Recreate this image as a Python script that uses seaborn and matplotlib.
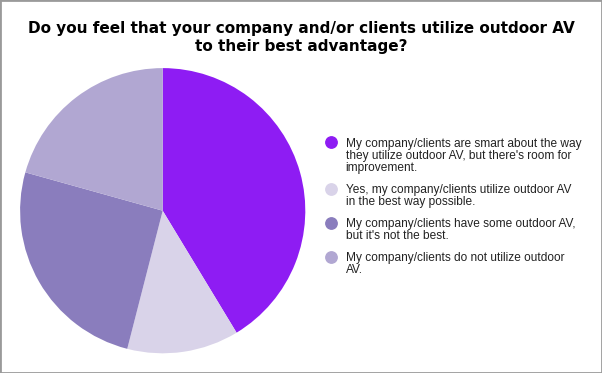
import matplotlib
matplotlib.use("Agg")
import matplotlib.pyplot as plt
import seaborn as sns
from matplotlib.lines import Line2D
from matplotlib.patches import Rectangle

# Dados da pesquisa
categorias = [
    ["My company/clients are smart about the way",
     "they utilize outdoor AV, but there's room for",
     "improvement."],
    ["Yes, my company/clients utilize outdoor AV",
     "in the best way possible."],
    ["My company/clients have some outdoor AV,",
     "but it's not the best."],
    ["My company/clients do not utilize outdoor",
     "AV."],
]
respostas = [62, 19, 38, 31]
cores = ["#8e1cf3", "#d9d3e9", "#8a7dbd", "#b1a7d2"]
titulo = ["Do you feel that your company and/or clients utilize outdoor AV",
          "to their best advantage?"]

sns.set_theme(style="white")
plt.rcParams["font.family"] = ["Liberation Sans", "DejaVu Sans"]

W, H = 602, 373
fig = plt.figure(figsize=(W / 100, H / 100), dpi=100)
fig.patch.set_facecolor("white")


def px(x, y):
    # pixels (origem no topo) -> fração da figura
    return x / W, 1 - y / H


# Pizza: centro (162.7, 210.7) px, raio 142.6 px
cx, cy, r = 162.7, 210.7, 142.6
ax = fig.add_axes([(cx - r) / W, 1 - (cy + r) / H, 2 * r / W, 2 * r / H])
ax.pie(respostas, colors=cores, startangle=90, counterclock=False,
       radius=1, wedgeprops=dict(linewidth=0))
ax.set_xlim(-1, 1)
ax.set_ylim(-1, 1)
ax.set_aspect("equal")
ax.axis("off")

# Título (uma linha por vez)
for i, linha in enumerate(titulo):
    fig.text(*px(301, 33 + 17.8 * i), linha, ha="center", va="baseline",
             fontsize=11, fontweight="bold", color="black",
             family=["DejaVu Sans"])

# Legenda manual (marcador alinhado à primeira linha)
marcador_y = [142.5, 188.5, 222.8, 257.0]
base_y = [146.8, 192.6, 226.8, 261.2]
for linhas, cor, my, by in zip(categorias, cores, marcador_y, base_y):
    for j, linha in enumerate(linhas):
        fig.text(*px(345.5, by + 12.2 * j), linha, ha="left", va="baseline",
                 fontsize=8.6, color="#222222")
    fig.add_artist(Line2D([331 / W], [1 - my / H], marker="o", markersize=8.2,
                          color=cor, linestyle="none", transform=fig.transFigure))

# Borda cinza
fig.add_artist(Rectangle((0, 0), 1, 1, transform=fig.transFigure, fill=False,
                         edgecolor="#9a9a9a", linewidth=2))

fig.savefig("out.png", dpi=100)
